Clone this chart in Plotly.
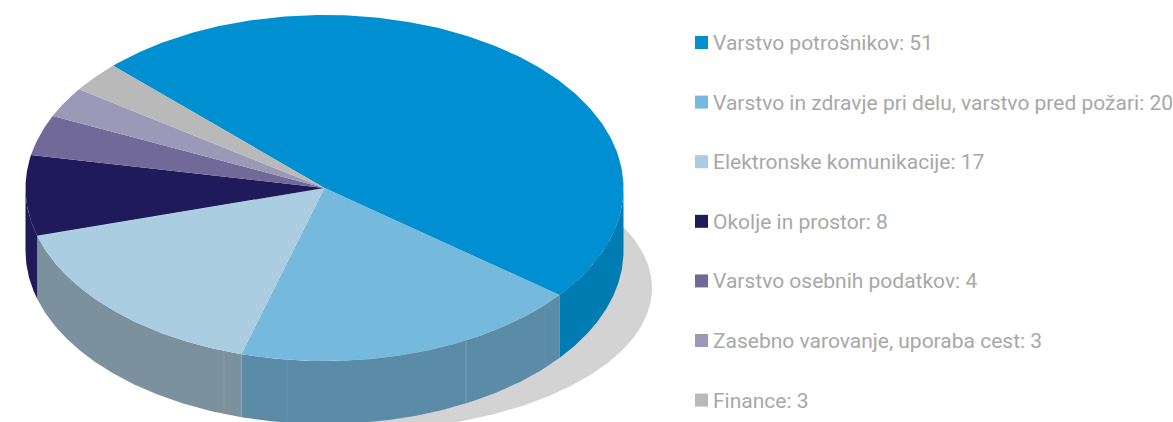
import numpy as np
import plotly.graph_objects as go

categories = ["Varstvo potrošnikov", "Varstvo in zdravje pri delu, varstvo pred požari",
              "Elektronske komunikacije", "Okolje in prostor", "Varstvo osebnih podatkov",
              "Zasebno varovanje, uporaba cest", "Finance"]
values = [51, 20, 17, 8, 4, 3, 3]
top_colors = ["#008fd0", "#75b9dd", "#aacde2", "#1f1a59", "#716997", "#9c98b7", "#b9b9b9"]
side_colors = ["#007cb2", "#5a8ca8", "#7b919e", "#1f1a59", "#716997", "#9c98b7", "#b9b9b9"]

W, H = 1173, 422
CX, CY, RX, RY, DEPTH = 324.5, 188.0, 299.0, 173.0, 63.0
START = -45.0
SH_CX, SH_CY, SH_RX, SH_RY = 353.0, 288.0, 299.0, 143.0
LEG_X, LEG_Y0, LEG_STEP, SW = 695.0, 42.5, 59.6, 13.0
TEXT_COLOR = "#a8a8a8"
SEAM_X = [224.0, 287.0, 466.0, 545.0]   # faint joints in the wall
SEAM_COLORS = ["#84989f", "#6293ad", "#78a0b6", "#6293ad"]


def rim(a, dy=0.0):
    r = np.radians(a)
    return CX + RX * np.sin(r), CY + dy - RY * np.cos(r)


fig = go.Figure()


def poly(x, y, color, name):
    fig.add_trace(go.Scatter(x=x, y=y, mode="lines", fill="toself", fillcolor=color,
                             line=dict(width=0, color=color), hoverinfo="skip",
                             showlegend=False, name=name))


# shadow: only its right half ever shows past the pie
t = np.linspace(-np.pi / 2, np.pi / 2, 181)
poly(SH_CX + SH_RX * np.cos(t), SH_CY + SH_RY * np.sin(t), "#d3d3d3", "shadow")

edges = START + np.concatenate([[0], np.cumsum(values)]) * 360.0 / sum(values)

# side walls: the front half of the rim only
for i, c in enumerate(categories):
    a0, a1 = max(edges[i], 90.0), min(edges[i + 1], 270.0)
    if a1 <= a0:
        continue
    a = np.linspace(a0, a1, 120)
    xt, yt = rim(a)
    xb, yb = rim(a[::-1], DEPTH)
    poly(np.concatenate([xt, xb]), np.concatenate([yt, yb]), side_colors[i], c + " side")

# wall joints
for sx, sc in zip(SEAM_X, SEAM_COLORS):
    y_rim = CY + RY * np.sqrt(1 - ((sx - CX) / RX) ** 2)
    fig.add_trace(go.Scatter(x=[sx, sx], y=[y_rim, y_rim + DEPTH], mode="lines",
                             line=dict(width=1, color=sc), hoverinfo="skip", showlegend=False))

# top slices
for i, c in enumerate(categories):
    a = np.linspace(edges[i], edges[i + 1], 200)
    xt, yt = rim(a)
    poly(np.concatenate([[CX], xt, [CX]]), np.concatenate([[CY], yt, [CY]]), top_colors[i], c)

shapes, annotations = [], []
for i, (c, v) in enumerate(zip(categories, values)):
    yc = LEG_Y0 + i * LEG_STEP
    shapes.append(dict(type="rect", xref="x", yref="y", x0=LEG_X, x1=LEG_X + SW,
                       y0=yc - SW / 2, y1=yc + SW / 2, fillcolor=top_colors[i],
                       line=dict(width=0)))
    annotations.append(dict(xref="x", yref="y", x=LEG_X + 16, y=yc + 0.5, xanchor="left",
                            yanchor="middle", text=f"{c}: {v}", showarrow=False,
                            font=dict(family="Roboto", size=21, color=TEXT_COLOR)))

fig.update_layout(
    width=W, height=H, margin=dict(l=0, r=0, t=0, b=0),
    paper_bgcolor="white", plot_bgcolor="white", showlegend=False,
    xaxis=dict(range=[0, W], visible=False, fixedrange=True),
    yaxis=dict(range=[H, 0], visible=False, fixedrange=True),
    shapes=shapes, annotations=annotations,
)
fig.write_html("out.html", config={"displayModeBar": False},
               post_script="document.body.style.margin='0';document.body.style.overflow='hidden';")
